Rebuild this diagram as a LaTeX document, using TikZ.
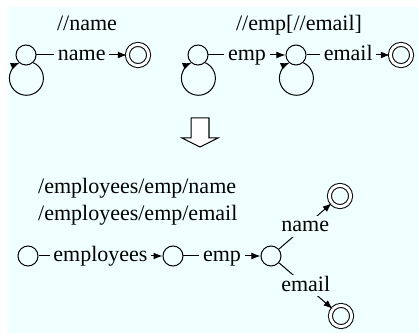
\documentclass[tikz,border=0pt]{standalone}
\usepackage{fontspec}
\setmainfont{Liberation Serif}
\usetikzlibrary{calc,arrows.meta}
\definecolor{bgcyan}{RGB}{240,255,255}

\begin{document}
\begin{tikzpicture}[x=0.5pt,y=0.5pt,line width=0.5pt,
        state/.style={circle,draw,minimum size=10pt,inner sep=0pt},
        final/.style={circle,draw,double,double distance=1.5pt,minimum size=10.6pt,inner sep=0pt},
        lbl/.style={fill=bgcyan,inner xsep=1.8pt,inner ysep=0.5pt,text height=7.5pt,text depth=2pt,
            font=\fontsize{11}{13}\selectfont},
        txt/.style={font=\fontsize{11}{13}\selectfont},
        edge/.style={-{Latex[length=4.5pt,width=3.4pt]}}]
            \useasboundingbox (0,0) rectangle (419,333);
            \fill [bgcyan] (7,0) rectangle (419,326);

            % the two queries
            \node (q1) at (87,310) [txt] {//name};
            \node (q2) at (299,308) [txt] {//emp[//email]};

            \node (a1) at (26,278) [state] {};
            \node (f1) at (138,278) [final] {};
            \node (b1) at (198,278) [state] {};
            \node (b2) at (296,278) [state] {};
            \node (bf) at (401,278) [final] {};

            \draw [edge] (a1) -- node [lbl] {name} (f1);
            \draw [edge] (b1) -- node [lbl] {emp} (b2);
            \draw [edge] (b2) -- node [lbl] {email} (bf);

            % self loops
            \foreach \n in {a1, b1, b2}
                {
                    \draw [edge] (\n.-47.6) arc [start angle=66.6, end angle=-246.6, radius=17];
                }

            % down arrow
            \draw [fill=white] (191,215) -- (209,215) -- (209,195) -- (218,195) -- (200,186)
                -- (182,195) -- (191,195) -- cycle;

            % the merged paths
            \node (p1) at (31,145) [txt,anchor=west] {/employees/emp/name};
            \node (p2) at (31,118) [txt,anchor=west] {/employees/emp/email};

            \node (c1) at (28,77) [state] {};
            \node (c2) at (173,77) [state] {};
            \node (c3) at (271,77) [state] {};
            \node (cf1) at (340,137) [final] {};
            \node (cf2) at (341,17) [final] {};

            \draw [edge] (c1) -- node [lbl] {employees} (c2);
            \draw [edge] (c2) -- node [lbl] {emp} (c3);
            \draw [edge] (c3) -- node [lbl] {name} (cf1);
            \draw [edge] (c3) -- node [lbl] {email} (cf2);

        \end{tikzpicture}
\end{document}
